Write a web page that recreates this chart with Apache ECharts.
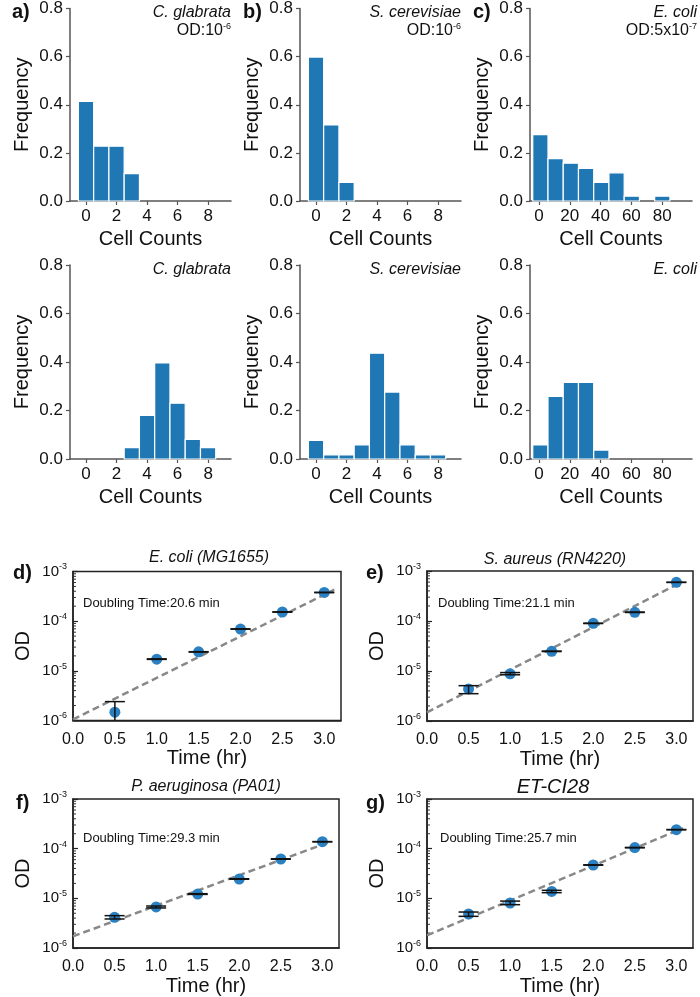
<!DOCTYPE html>
<html>
<head>
<meta charset="utf-8">
<script src="https://cdn.jsdelivr.net/npm/echarts@6/dist/echarts.min.js"></script>
<style>html,body{margin:0;padding:0;background:#fff}#chart{width:700px;height:997px}</style>
</head>
<body>
<div id="chart"></div>
<script>
// ---------- DATA ----------
// Histogram bin centres
const yeastBins = [0, 1, 2, 3, 4, 5, 6, 7, 8];
const ecoliBins = [0.9, 10.8, 20.7, 30.6, 40.5, 50.4, 60.3, 70.2, 80.1];
// Frequencies, top row (low OD)
const cglabrataLowOD   = [0.414, 0.228, 0.228, 0.114, 0, 0, 0, 0, 0];
const scerevisiaeLowOD = [0.598, 0.316, 0.077, 0, 0, 0, 0, 0, 0];
const ecoliLowOD       = [0.276, 0.176, 0.157, 0.136, 0.077, 0.117, 0.02, 0, 0.02];
// Frequencies, bottom row
const cglabrataHigh    = [0, 0, 0, 0.047, 0.180, 0.396, 0.230, 0.081, 0.047];
const scerevisiaeHigh  = [0.077, 0.017, 0.017, 0.058, 0.436, 0.276, 0.058, 0.017, 0.017];
const ecoliHigh        = [0.058, 0.258, 0.316, 0.316, 0.037, 0, 0, 0, 0];
// Histogram axis ticks
const freqTicks = [0, 0.2, 0.4, 0.6, 0.8];
const yeastTicks = [0, 2, 4, 6, 8];
const ecoliTicks = [0, 20, 40, 60, 80];

// Growth curves
const timeHr = [0.5, 1.0, 1.5, 2.0, 2.5, 3.0];
const timeTicks = [0, 0.5, 1.0, 1.5, 2.0, 2.5, 3.0];
const ecoliOD      = [1.47e-6, 1.72e-5, 2.41e-5, 6.95e-5, 1.53e-4, 3.78e-4];
const ecoliODLow   = [5.0e-7, 1.70e-5, 2.39e-5, 6.90e-5, 1.52e-4, 3.75e-4];
const ecoliODHigh  = [2.4e-6, 1.74e-5, 2.43e-5, 7.00e-5, 1.54e-4, 3.81e-4];
const ecoliFit     = [[0, 1.05e-6], [3.12, 4.3e-4]];

const saureusOD     = [4.37e-6, 8.8e-6, 2.47e-5, 8.98e-5, 1.49e-4, 5.93e-4];
const saureusODLow  = [3.52e-6, 8.4e-6, 2.45e-5, 8.90e-5, 1.48e-4, 5.90e-4];
const saureusODHigh = [5.09e-6, 9.3e-6, 2.50e-5, 9.05e-5, 1.51e-4, 5.96e-4];
const saureusFit    = [[0, 1.49e-6], [3.07, 6.1e-4]];

const paeruginosaOD     = [4.14e-6, 6.7e-6, 1.22e-5, 2.45e-5, 6.19e-5, 1.38e-4];
const paeruginosaODLow  = [3.84e-6, 6.4e-6, 1.20e-5, 2.42e-5, 6.12e-5, 1.37e-4];
const paeruginosaODHigh = [4.48e-6, 7.0e-6, 1.24e-5, 2.48e-5, 6.25e-5, 1.39e-4];
const paeruginosaFit    = [[0, 1.72e-6], [3.07, 1.33e-4]];

const etci28OD     = [4.84e-6, 8.05e-6, 1.38e-5, 4.69e-5, 1.05e-4, 2.41e-4];
const etci28ODLow  = [4.34e-6, 7.45e-6, 1.30e-5, 4.65e-5, 1.04e-4, 2.40e-4];
const etci28ODHigh = [5.30e-6, 8.80e-6, 1.45e-5, 4.73e-5, 1.06e-4, 2.43e-4];
const etci28Fit    = [[0, 1.8e-6], [3.08, 2.6e-4]];

const minorMultipliers = [2, 3, 4, 5, 6, 7, 8, 9];
const decades = [1e-6, 1e-5, 1e-4];

// ---------- LAYOUT / STYLE ----------
const FONT = 'Liberation Sans, Arial, Helvetica, sans-serif';
const BAR = '#1f77b4';
const DOT = '#2b80c2';
const AX = '#555';

const histPanels = [
  {rect:[70, 7, 161, 194],  bins: yeastBins, vals: cglabrataLowOD,   w: 1,    min: -1.05, max: 9.5,  ticks: yeastTicks},
  {rect:[300, 7, 161, 194], bins: yeastBins, vals: scerevisiaeLowOD, w: 1,    min: -1.05, max: 9.5,  ticks: yeastTicks},
  {rect:[530, 7, 162, 194], bins: ecoliBins, vals: ecoliLowOD,       w: 9.9,  min: -5.84, max: 99.4, ticks: ecoliTicks},
  {rect:[70, 265, 161, 194],  bins: yeastBins, vals: cglabrataHigh,   w: 1,   min: -1.05, max: 9.5,  ticks: yeastTicks},
  {rect:[300, 265, 161, 194], bins: yeastBins, vals: scerevisiaeHigh, w: 1,   min: -1.05, max: 9.5,  ticks: yeastTicks},
  {rect:[530, 265, 162, 194], bins: ecoliBins, vals: ecoliHigh,       w: 9.9, min: -5.84, max: 99.4, ticks: ecoliTicks}
];

const growthPanels = [
  {rect:[73, 571.5, 268, 149], od: ecoliOD, lo: ecoliODLow, hi: ecoliODHigh, fit: ecoliFit},
  {rect:[427, 571, 266, 150], od: saureusOD, lo: saureusODLow, hi: saureusODHigh, fit: saureusFit},
  {rect:[73, 799, 266, 149.5], od: paeruginosaOD, lo: paeruginosaODLow, hi: paeruginosaODHigh, fit: paeruginosaFit},
  {rect:[427, 799, 266, 149.5], od: etci28OD, lo: etci28ODLow, hi: etci28ODHigh, fit: etci28Fit}
];

const grid = [], xAxis = [], yAxis = [], series = [];

histPanels.forEach((p, i) => {
  grid.push({left: p.rect[0], top: p.rect[1], width: p.rect[2], height: p.rect[3], show: false});
  xAxis.push({
    type: 'value', gridIndex: i, min: p.min, max: p.max,
    splitLine: {show: false},
    axisLine: {show: true, onZero: false, lineStyle: {color: AX, width: 1.5}},
    axisTick: {show: true, inside: false, length: 4, lineStyle: {color: AX, width: 1.2}, customValues: p.ticks},
    axisLabel: {customValues: p.ticks, fontSize: 17, fontFamily: FONT, color: '#111', margin: 7},
    name: 'Cell Counts', nameLocation: 'middle', nameGap: 28,
    nameTextStyle: {fontSize: 20, fontFamily: FONT, color: '#111'}
  });
  yAxis.push({
    type: 'value', gridIndex: i, min: 0, max: 0.8,
    splitLine: {show: false},
    axisLine: {show: true, onZero: false, lineStyle: {color: AX, width: 1.5}},
    axisTick: {show: true, inside: false, length: 4, lineStyle: {color: AX, width: 1.2}, customValues: freqTicks},
    axisLabel: {customValues: freqTicks, formatter: v => v.toFixed(1), fontSize: 17, fontFamily: FONT, color: '#111', margin: 7},
    name: 'Frequency', nameLocation: 'middle', nameGap: 38, nameRotate: 90,
    nameTextStyle: {fontSize: 20, fontFamily: FONT, color: '#111'}
  });
  const data = p.bins.map((b, k) => [b, p.vals[k]]).filter(d => d[1] > 0);
  const w = p.w;
  series.push({
    type: 'custom', xAxisIndex: i, yAxisIndex: i, data: data,
    renderItem: (params, api) => {
      const x = api.value(0), y = api.value(1);
      const a = api.coord([x - w / 2, y]);
      const b = api.coord([x + w / 2, 0]);
      return {type: 'rect', shape: {x: a[0], y: a[1], width: b[0] - a[0], height: b[1] - a[1]},
        style: {fill: BAR, stroke: '#fff', lineWidth: 1.2}};
    }
  });
});

growthPanels.forEach((p, j) => {
  const i = histPanels.length + j;
  grid.push({left: p.rect[0], top: p.rect[1], width: p.rect[2], height: p.rect[3], show: true,
    borderColor: '#222', borderWidth: 1.5, backgroundColor: 'transparent'});
  xAxis.push({
    type: 'value', gridIndex: i, min: 0, max: 3.2,
    splitLine: {show: false},
    axisLine: {show: true, onZero: false, lineStyle: {color: '#222', width: 1.5}},
    axisTick: {show: false},
    axisLabel: {customValues: timeTicks, formatter: v => v.toFixed(1), fontSize: 16, fontFamily: FONT, color: '#111', margin: 11},
    name: 'Time (hr)', nameLocation: 'middle', nameGap: 28,
    nameTextStyle: {fontSize: 20, fontFamily: FONT, color: '#111'}
  });
  yAxis.push({
    type: 'log', logBase: 10, gridIndex: i, min: 1e-6, max: 1e-3,
    splitLine: {show: false},
    axisLine: {show: true, onZero: false, lineStyle: {color: '#222', width: 1.5}},
    axisTick: {show: true, inside: true, length: 5, lineStyle: {color: '#222', width: 1.2}},
    axisLabel: {
      formatter: v => '{b|10}{s|' + Math.round(Math.log10(v)) + '}',
      margin: 6,
      rich: {
        b: {fontSize: 15, fontFamily: FONT, color: '#111', lineHeight: 18},
        s: {fontSize: 9, fontFamily: FONT, color: '#111', verticalAlign: 'top', lineHeight: 10}
      }
    },
    name: 'OD', nameLocation: 'middle', nameGap: 40, nameRotate: 90,
    nameTextStyle: {fontSize: 20, fontFamily: FONT, color: '#111'}
  });
  // minor ticks on log axis
  const minor = [];
  decades.forEach(d => minorMultipliers.forEach(m => minor.push([0, d * m])));
  series.push({
    type: 'custom', xAxisIndex: i, yAxisIndex: i, data: minor, silent: true, z: 1,
    renderItem: (params, api) => {
      const c = api.coord([0, api.value(1)]);
      return {type: 'line', shape: {x1: c[0], y1: c[1], x2: c[0] + 3, y2: c[1]}, style: {stroke: '#333', lineWidth: 1}};
    }
  });
  // fitted line
  series.push({
    type: 'line', xAxisIndex: i, yAxisIndex: i, data: p.fit, symbol: 'none', z: 2,
    lineStyle: {color: '#888', width: 2.5, type: [7, 4]}
  });
  // points
  series.push({
    type: 'scatter', xAxisIndex: i, yAxisIndex: i, z: 3,
    data: timeHr.map((t, k) => [t, p.od[k]]),
    symbolSize: 11, itemStyle: {color: DOT, opacity: 1}
  });
  // error bars
  series.push({
    type: 'custom', xAxisIndex: i, yAxisIndex: i, z: 4,
    data: timeHr.map((t, k) => [t, p.lo[k], p.hi[k]]),
    renderItem: (params, api) => {
      const x = api.value(0), lo = api.value(1), hi = api.value(2);
      const clampLo = Math.max(lo, 1e-6);
      const a = api.coord([x, hi]);
      const b = api.coord([x, clampLo]);
      const hw = 10;
      const children = [
        {type: 'line', shape: {x1: a[0], y1: a[1], x2: b[0], y2: b[1]}, style: {stroke: '#111', lineWidth: 1.5}},
        {type: 'line', shape: {x1: a[0] - hw, y1: a[1], x2: a[0] + hw, y2: a[1]}, style: {stroke: '#111', lineWidth: 1.5}}
      ];
      if (lo >= 1e-6) children.push({type: 'line', shape: {x1: b[0] - hw, y1: b[1], x2: b[0] + hw, y2: b[1]}, style: {stroke: '#111', lineWidth: 1.5}});
      return {type: 'group', children: children};
    }
  });
});

function txt(text, x, y, opts) {
  opts = opts || {};
  return {
    type: 'text', x: x, y: y, z: 100,
    style: Object.assign({
      text: text, fill: '#111', align: opts.align || 'left', verticalAlign: 'middle',
      font: (opts.style || 'normal') + ' ' + (opts.weight || 'normal') + ' ' + (opts.size || 16) + 'px ' + FONT
    }, opts.rich ? {rich: opts.rich} : {})
  };
}
const supRich = {
  n: {fontSize: 16, fontFamily: FONT, fill: '#111', lineHeight: 18},
  s: {fontSize: 9, fontFamily: FONT, fill: '#111', verticalAlign: 'top', lineHeight: 10}
};

const graphic = [
  txt('a)', 12, 12, {weight: 'bold', size: 20}),
  txt('b)', 243, 12, {weight: 'bold', size: 20}),
  txt('c)', 473, 12, {weight: 'bold', size: 20}),
  txt('C. glabrata', 231, 12.5, {align: 'right', style: 'italic', size: 16}),
  txt('{n|OD:10}{s|-6}', 231, 31, {align: 'right', rich: supRich}),
  txt('S. cerevisiae', 461, 12.5, {align: 'right', style: 'italic', size: 16}),
  txt('{n|OD:10}{s|-6}', 461, 31, {align: 'right', rich: supRich}),
  txt('E. coli', 697, 12.5, {align: 'right', style: 'italic', size: 16}),
  txt('{n|OD:5x10}{s|-7}', 697, 31, {align: 'right', rich: supRich}),
  txt('C. glabrata', 231, 270, {align: 'right', style: 'italic', size: 16}),
  txt('S. cerevisiae', 461, 270, {align: 'right', style: 'italic', size: 16}),
  txt('E. coli', 697, 270, {align: 'right', style: 'italic', size: 16}),

  txt('d)', 13, 573, {weight: 'bold', size: 20}),
  txt('e)', 366, 573, {weight: 'bold', size: 20}),
  txt('f)', 16, 803, {weight: 'bold', size: 20}),
  txt('g)', 366, 803, {weight: 'bold', size: 20}),
  txt('E. coli (MG1655)', 209, 558, {align: 'center', style: 'italic', size: 16}),
  txt('S. aureus (RN4220)', 555, 560, {align: 'center', style: 'italic', size: 16}),
  txt('P. aeruginosa (PA01)', 206, 787, {align: 'center', style: 'italic', size: 16}),
  txt('ET-CI28', 553, 787, {align: 'center', style: 'italic', size: 20}),
  txt('Doubling Time:20.6 min', 83, 603, {size: 13}),
  txt('Doubling Time:21.1 min', 438, 603, {size: 13}),
  txt('Doubling Time:29.3 min', 83, 838, {size: 13}),
  txt('Doubling Time:25.7 min', 440, 838, {size: 13})
];

const chart = echarts.init(document.getElementById('chart'), null, {renderer: 'canvas'});
chart.setOption({
  animation: false,
  backgroundColor: '#fff',
  grid: grid, xAxis: xAxis, yAxis: yAxis, series: series, graphic: graphic
});
</script>
</body>
</html>
